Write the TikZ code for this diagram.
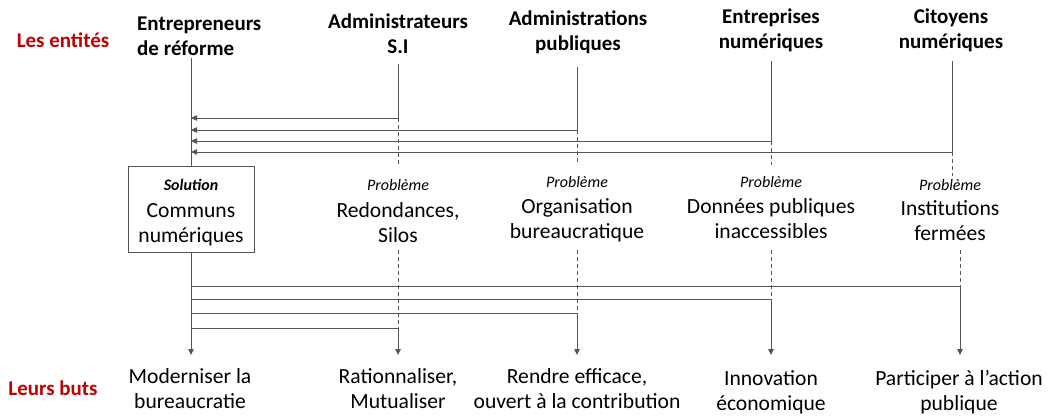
\documentclass[tikz,border=0pt]{standalone}
\usepackage{fontspec}
\setmainfont{Carlito}
\usetikzlibrary{arrows.meta}
\definecolor{myred}{HTML}{C00000}
\definecolor{lincol}{HTML}{555555}
\newcommand\pbfont{\itshape\fontsize{16}{16}\selectfont}
\begin{document}
\begin{tikzpicture}[x=1pt,y=-1pt,
  big/.style={font=\fontsize{21.6}{25}\selectfont, align=center, inner sep=0pt},
  head/.style={big, font=\bfseries\fontsize{21}{25}\selectfont},
  redlab/.style={head, text=myred},
  ln/.style={draw=lincol, line width=0.8pt},
  arr/.style={ln, -{Triangle[length=6pt,width=5.5pt]}},
  dsh/.style={ln, dash pattern=on 4pt off 3pt},
  solbox/.style={big, draw=lincol, line width=0.8pt, minimum width=126pt, minimum height=86pt}
]
\useasboundingbox (0,0) rectangle (1051,416);

% red labels
\node[redlab, anchor=base] (L1) at (63,47) {Les entités};
\node[redlab, anchor=base] (L2) at (53,395) {Leurs buts};

% entities (base anchor = last line baseline)
\node[head, align=left, anchor=base west] (E1) at (137,55) {Entrepreneurs\\de réforme};
\node[head, anchor=base] (E2) at (398,53) {Administrateurs\\S.I};
\node[head, anchor=base] (E3) at (578,50) {Administrations\\publiques};
\node[head, anchor=base] (E4) at (771,48) {Entreprises\\numériques};
\node[head, anchor=base] (E5) at (951,48) {Citoyens\\numériques};

% solution box
\node[solbox] (sol) at (191,209) {{\bfseries\itshape\fontsize{16}{16}\selectfont\rule{0pt}{19pt}Solution}\\[2pt]Communs\\numériques};

% problems
\node[big, anchor=base] (P2) at (398,242) {{\pbfont Problème}\\[2pt]Redondances,\\Silos};
\node[big, anchor=base] (P3) at (577,238) {{\pbfont Problème}\\[1pt]Organisation\\bureaucratique};
\node[big, anchor=base] (P4) at (771,238) {{\pbfont Problème}\\[1pt]Données publiques\\inaccessibles};
\node[big, anchor=base] (P5) at (950,240) {{\pbfont Problème}\\[0pt]Institutions\\fermées};

% goals
\node[big, anchor=base] (G1) at (190,408) {Moderniser la\\bureaucratie};
\node[big, anchor=base] (G2) at (398,408) {Rationnaliser,\\Mutualiser};
\node[big, anchor=base] (G3) at (577,408) {Rendre efficace,\\ouvert à la contribution};
\node[big, anchor=base] (G4) at (771,410) {Innovation\\économique};
\node[big, anchor=base] (G5) at (959,410) {Participer à l’action\\publique};

% coordinates
\coordinate (t1) at (191,58);
\coordinate (t2) at (398,64);
\coordinate (t3) at (577,67);
\coordinate (t4) at (771,61);
\coordinate (t5) at (952,61);
\coordinate (j2) at (398,118);
\coordinate (j3) at (577,130);
\coordinate (j4) at (771,141);
\coordinate (j5) at (952,152);
\coordinate (u2) at (398,165);
\coordinate (u3) at (577,165);
\coordinate (u4) at (771,165);
\coordinate (u5) at (952,176);
\coordinate (v2) at (398,250);
\coordinate (v3) at (577,250);
\coordinate (v4) at (771,250);
\coordinate (v5) at (960,250);
\coordinate (m2) at (398,328);
\coordinate (m3) at (577,313);
\coordinate (m4) at (771,299);
\coordinate (m5) at (960,286);
\coordinate (b1) at (191,355);
\coordinate (b2) at (398,355);
\coordinate (b3) at (577,355);
\coordinate (b4) at (771,355);
\coordinate (b5) at (960,355);

% upper part
\draw[ln] (t1) -- (sol.north);
\draw[ln] (t2) -- (j2);
\draw[ln] (t3) -- (j3);
\draw[ln] (t4) -- (j4);
\draw[ln] (t5) -- (j5);
\draw[arr] (j2) -- (j2 -| t1);
\draw[arr] (j3) -- (j3 -| t1);
\draw[arr] (j4) -- (j4 -| t1);
\draw[arr] (j5) -- (j5 -| t1);
\draw[dsh] (j2) -- (u2);
\draw[dsh] (j3) -- (u3);
\draw[dsh] (j4) -- (u4);
\draw[dsh] (j5) -- (u5);

% lower part
\draw[arr] (sol.south) -- (b1);
\draw[ln] (m2 -| sol.south) -- (m2);
\draw[ln] (m3 -| sol.south) -- (m3);
\draw[ln] (m4 -| sol.south) -- (m4);
\draw[ln] (m5 -| sol.south) -- (m5);
\draw[arr] (m2) -- (b2);
\draw[arr] (m3) -- (b3);
\draw[arr] (m4) -- (b4);
\draw[arr] (m5) -- (b5);
\draw[dsh] (v2) -- (m2);
\draw[dsh] (v3) -- (m3);
\draw[dsh] (v4) -- (m4);
\draw[dsh] (v5) -- (m5);
\end{tikzpicture}
\end{document}
